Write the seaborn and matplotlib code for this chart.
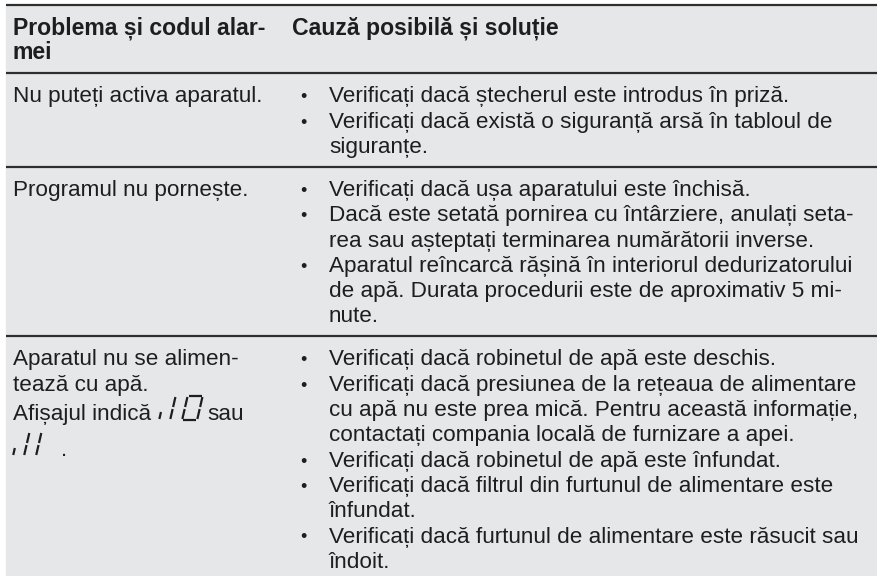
import matplotlib.pyplot as plt
import seaborn as sns
from matplotlib.patches import Rectangle

sns.set_theme(style="white")
plt.rcParams["font.family"] = ["Liberation Sans", "DejaVu Sans"]

# Table content
header_left = ["Problema și codul alar-", "mei"]
header_right = "Cauză posibilă și soluție"

problem_lines = [
    ["Nu puteți activa aparatul."],
    ["Programul nu pornește."],
    ["Aparatul nu se alimen-", "tează cu apă."],
]
display_text = ["Afișajul indică", "sau", "."]
display_codes = ["10", "11"]

causes = [
    [
        ["Verificați dacă ștecherul este introdus în priză."],
        ["Verificați dacă există o siguranță arsă în tabloul de", "siguranțe."],
    ],
    [
        ["Verificați dacă ușa aparatului este închisă."],
        ["Dacă este setată pornirea cu întârziere, anulați seta-",
         "rea sau așteptați terminarea numărătorii inverse."],
        ["Aparatul reîncarcă rășină în interiorul dedurizatorului",
         "de apă. Durata procedurii este de aproximativ 5 mi-",
         "nute."],
    ],
    [
        ["Verificați dacă robinetul de apă este deschis."],
        ["Verificați dacă presiunea de la rețeaua de alimentare",
         "cu apă nu este prea mică. Pentru această informație,",
         "contactați compania locală de furnizare a apei."],
        ["Verificați dacă robinetul de apă este înfundat."],
        ["Verificați dacă filtrul din furtunul de alimentare este", "înfundat."],
        ["Verificați dacă furtunul de alimentare este răsucit sau", "îndoit."],
    ],
]

# Layout (pixels)
W, H = 878, 576
bg = "#e6e7e9"
txt = "#1e1e1e"
rule = "#2e2e2e"
fs = 16.2
fs_head = 16.6
lh = 25.3
pad_top = 29
pad_bot = 14
x_left = 13
x_head_r = 292
x_bullet = 303
x_text = 329

fig = plt.figure(figsize=(W / 100, H / 100), dpi=100)
ax = fig.add_axes([0, 0, 1, 1])
ax.set_xlim(0, W)
ax.set_ylim(H, 0)
ax.axis("off")

# rule positions follow from the number of text lines in each row
row_counts = [sum(len(item) for item in items) for items in causes]
rules = [5]
first_base = []
y = rules[0]
for n in [len(header_left)] + row_counts:
    first_base.append(y + pad_top)
    y = y + pad_top + (n - 1) * lh + pad_bot
    rules.append(y)
rules = rules[:-1]

ax.add_patch(Rectangle((6, rules[0]), W - 6, H - rules[0], color=bg, zorder=0))
ax.hlines(rules, 6, W, color=rule, lw=1.6, zorder=2)

for i, line in enumerate(header_left):
    ax.text(x_left, first_base[0] + i * lh, line, fontsize=fs_head,
            fontweight="bold", color=txt, va="baseline")
ax.text(x_head_r, first_base[0], header_right, fontsize=fs_head,
        fontweight="bold", color=txt, va="baseline")

for r, lines in enumerate(problem_lines):
    for i, line in enumerate(lines):
        ax.text(x_left, first_base[r + 1] + i * lh, line, fontsize=fs, color=txt,
                va="baseline")

for r, items in enumerate(causes):
    y = first_base[r + 1]
    for item in items:
        ax.text(x_bullet, y, "•", fontsize=fs * 0.8, color=txt, va="baseline",
                ha="center")
        for line in item:
            ax.text(x_text, y, line, fontsize=fs, color=txt, va="baseline")
            y += lh


def draw_code(x, base, code, h=24, slant=0.23):
    # seven-segment style display code with a small leading tick
    def seg(x0, y0, x1, y1):
        ax.plot([x + x0 + slant * y0, x + x1 + slant * y1], [base - y0, base - y1],
                color=txt, lw=1.6, solid_capstyle="butt")

    seg(1, 1, 1, 8)
    cur = 10
    for ch in code:
        if ch == "1":
            seg(cur + 2, 1, cur + 2, h / 2 - 1)
            seg(cur + 2, h / 2 + 1, cur + 2, h - 1)
            cur += 12
        else:
            w = 17
            seg(cur + 3, 0, cur + w - 1, 0)
            seg(cur + 3, h, cur + w - 1, h)
            seg(cur + 2, 1, cur + 2, h / 2 - 1)
            seg(cur + 2, h / 2 + 1, cur + 2, h - 1)
            seg(cur + w, 1, cur + w, h / 2 - 1)
            seg(cur + w, h / 2 + 1, cur + w, h - 1)
            cur += w + 6
    return x + cur


renderer = fig.canvas.get_renderer()
base1 = first_base[3] + 2 * lh + 4
base2 = base1 + 36
t = ax.text(x_left, base1, display_text[0], fontsize=fs, color=txt, va="baseline")
bb = t.get_window_extent(renderer)
end = draw_code(bb.x1 + 7, base1, display_codes[0])
ax.text(end + 4, base1, display_text[1], fontsize=fs, color=txt, va="baseline")
end = draw_code(x_left - 1, base2, display_codes[1])
ax.text(end + 15, base2, display_text[2], fontsize=fs, color=txt, va="baseline")

fig.savefig("out.png", dpi=100, facecolor="white")
